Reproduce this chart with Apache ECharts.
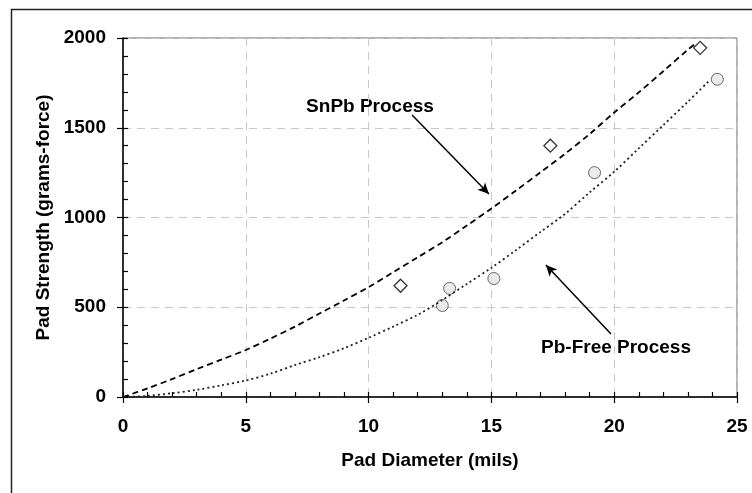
<!DOCTYPE html>
<html>
<head>
<meta charset="utf-8">
<script src="https://cdn.jsdelivr.net/npm/echarts@6/dist/echarts.min.js"></script>
<style>
  html, body { margin: 0; padding: 0; background: #fff; }
  #chart { width: 752px; height: 493px; }
</style>
</head>
<body>
<div id="chart"></div>
<script>
// measured points
const snpbX = [11.3, 17.4, 23.5]
const snpbY = [620, 1400, 1945]
const pbFreeX = [13.0, 13.3, 15.1, 19.2, 24.2]
const pbFreeY = [510, 605, 660, 1250, 1770]

// trend curves
const snpbFitX = [0, 1, 2, 3, 4, 5, 6, 7, 8, 9, 10, 11, 12, 13, 14, 15, 16, 17, 18, 19, 20, 21, 22, 23, 23.3]
const snpbFitY = [0, 48, 100, 155, 208, 262, 325, 392, 465, 538, 612, 695, 778, 862, 955, 1050, 1150, 1252, 1355, 1465, 1585, 1697, 1815, 1935, 1968]
const pbFreeFitX = [0, 1, 2, 3, 4, 5, 6, 7, 8, 9, 10, 11, 12, 13, 14, 15, 16, 17, 18, 19, 20, 21, 22, 23, 23.9]
const pbFreeFitY = [0, 6, 21, 40, 65, 92, 130, 178, 222, 272, 330, 392, 458, 540, 630, 720, 818, 920, 1020, 1140, 1255, 1385, 1515, 1645, 1766]

// axes
const xTicks = [0, 5, 10, 15, 20, 25]
const yTicks = [0, 500, 1000, 1500, 2000]

const zip = (xs, ys) => xs.map((x, i) => [x, ys[i]])

const font = "'Liberation Sans', Arial, sans-serif"
const labelStyle = { fontFamily: font, fontWeight: 'bold', fontSize: 19, color: '#000' }

const chart = echarts.init(document.getElementById('chart'))

const xMin = xTicks[0], xMax = xTicks[xTicks.length - 1]
const yMin = yTicks[0], yMax = yTicks[yTicks.length - 1]

chart.setOption({
  animation: false,
  backgroundColor: '#fff',
  grid: {
    left: 123, right: 15, top: 38, bottom: 96,
    show: true, borderColor: '#666', borderWidth: 1
  },
  xAxis: [
    {
      type: 'value', min: xMin, max: xMax, interval: xTicks[1] - xTicks[0],
      name: 'Pad Diameter (mils)', nameLocation: 'middle', nameGap: 54,
      nameTextStyle: labelStyle,
      axisLine: { lineStyle: { color: '#000', width: 1.5 } },
      axisTick: { inside: false, length: 6, lineStyle: { color: '#000', width: 1.2 } },
      axisLabel: Object.assign({ margin: 20, formatter: v => String(v) }, labelStyle),
      splitLine: { show: true, lineStyle: { color: '#c8c8c8', type: [8, 6], width: 1 } }
    },
    {
      // inside minor ticks
      type: 'value', min: xMin, max: xMax, interval: 1, position: 'bottom', show: true,
      axisLine: { show: false, onZero: false },
      axisTick: { show: true, inside: true, length: 5, lineStyle: { color: '#000', width: 1.2 } },
      axisLabel: { show: false },
      splitLine: { show: false }
    }
  ],
  yAxis: [
    {
      type: 'value', min: yMin, max: yMax, interval: yTicks[1] - yTicks[0],
      name: 'Pad Strength (grams-force)', nameLocation: 'middle', nameGap: 70,
      nameTextStyle: labelStyle,
      axisLine: { show: true, lineStyle: { color: '#000', width: 1.5 } },
      axisTick: { show: true, inside: false, length: 6, lineStyle: { color: '#000', width: 1.2 } },
      axisLabel: Object.assign({ margin: 17, formatter: v => String(v) }, labelStyle),
      splitLine: { show: true, lineStyle: { color: '#c8c8c8', type: [8, 6], width: 1 } }
    },
    {
      type: 'value', min: yMin, max: yMax, interval: 100, position: 'left', show: true,
      axisLine: { show: false, onZero: false },
      axisTick: { show: true, inside: true, length: 5, lineStyle: { color: '#000', width: 1.2 } },
      axisLabel: { show: false },
      splitLine: { show: false }
    }
  ],
  series: [
    {
      name: 'SnPb fit', type: 'line', smooth: 0.3, showSymbol: false,
      data: zip(snpbFitX, snpbFitY),
      lineStyle: { color: '#000', width: 1.8, type: [6, 4] },
      markLine: {
        silent: true, symbol: ['none', 'arrow'], symbolSize: [8, 11],
        label: { show: false },
        lineStyle: { color: '#000', width: 1.5, type: 'solid' },
        data: [[{ coord: [11.77, 1571] }, { coord: [14.9, 1131] }]]
      }
    },
    {
      name: 'Pb-Free fit', type: 'line', smooth: 0.3, showSymbol: false,
      data: zip(pbFreeFitX, pbFreeFitY),
      lineStyle: { color: '#222', width: 1.8, type: [2, 3] },
      markLine: {
        silent: true, symbol: ['none', 'arrow'], symbolSize: [8, 11],
        label: { show: false },
        lineStyle: { color: '#000', width: 1.5, type: 'solid' },
        data: [[{ coord: [19.87, 351] }, { coord: [17.22, 735] }]]
      }
    },
    {
      name: 'SnPb', type: 'scatter', symbol: 'diamond', symbolSize: 13,
      data: zip(snpbX, snpbY),
      itemStyle: { color: '#fff', borderColor: '#000', borderWidth: 1.3 }
    },
    {
      name: 'Pb-Free', type: 'scatter', symbol: 'circle', symbolSize: 12,
      data: zip(pbFreeX, pbFreeY),
      itemStyle: { color: '#e6e6e6', borderColor: '#444', borderWidth: 1 }
    }
  ],
  graphic: [
    {
      type: 'rect', left: 9, top: 7, silent: true,
      shape: { width: 760, height: 500 },
      style: { fill: 'none', stroke: '#222', lineWidth: 1.5 }
    },
    {
      type: 'text', x: 370, y: 107, silent: true,
      style: { text: 'SnPb Process', font: 'bold 19px ' + font, fill: '#000', align: 'center', verticalAlign: 'middle' }
    },
    {
      type: 'text', x: 616, y: 348, silent: true,
      style: { text: 'Pb-Free Process', font: 'bold 19px ' + font, fill: '#000', align: 'center', verticalAlign: 'middle' }
    }
  ]
})

window.addEventListener('resize', () => chart.resize())
</script>
</body>
</html>
